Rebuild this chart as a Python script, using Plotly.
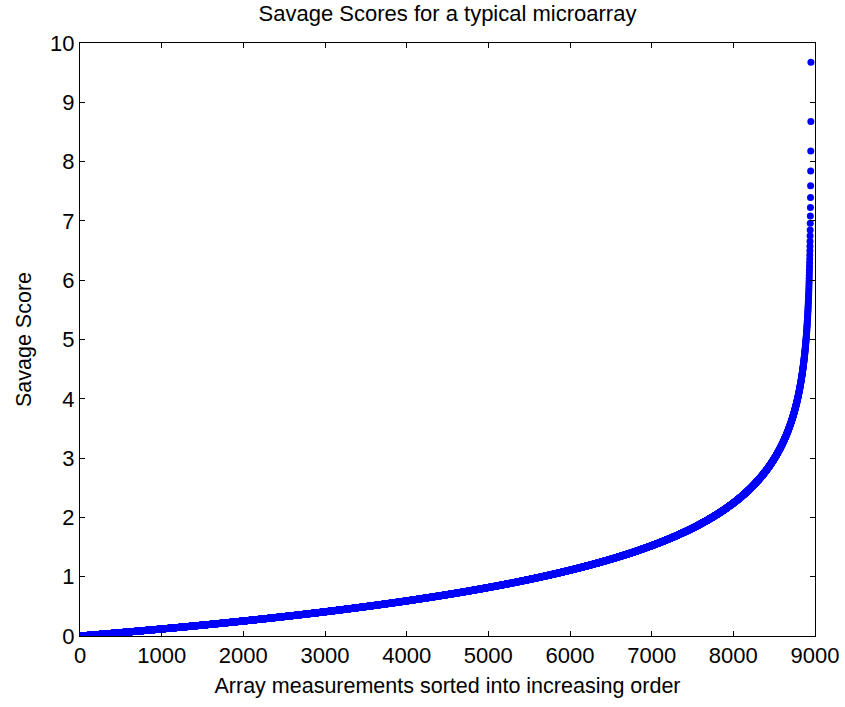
import numpy as np
import plotly.graph_objects as go

# Number of array measurements (spots) on the microarray
N_MEASUREMENTS = 8950

# Ranks 1..N of the measurements sorted into increasing order
ranks = np.arange(1, N_MEASUREMENTS + 1)

# Savage score of rank i: sum_{j=N-i+1}^{N} 1/j
reciprocals = 1.0 / np.arange(N_MEASUREMENTS, 0, -1)
savage_scores = np.cumsum(reciprocals)

x_ticks = [0, 1000, 2000, 3000, 4000, 5000, 6000, 7000, 8000, 9000]
y_ticks = [0, 1, 2, 3, 4, 5, 6, 7, 8, 9, 10]

FONT = "Liberation Sans, Arial, sans-serif"

fig = go.Figure()
fig.add_trace(go.Scatter(
    x=ranks,
    y=savage_scores,
    mode="markers",
    marker=dict(color="#0000FF", size=7, line=dict(width=0)),
    showlegend=False,
))

axis_common = dict(
    showline=True, linecolor="black", linewidth=1, mirror="ticks",
    ticks="inside", ticklen=5, tickcolor="black", tickwidth=1,
    showgrid=False, zeroline=False, automargin=False,
    tickfont=dict(family=FONT, size=22, color="black"),
)

fig.update_layout(
    width=845, height=707,
    margin=dict(l=80, r=30, t=43, b=71),
    paper_bgcolor="white", plot_bgcolor="white",
    title=dict(text="Savage Scores for a typical microarray",
               font=dict(family=FONT, size=22, color="black"),
               x=0.5, xref="paper", xanchor="center",
               y=1, yref="container", yanchor="top", pad=dict(t=6)),
    xaxis=dict(range=[0, 9000], tickvals=x_ticks,
               title=dict(text="Array measurements sorted into increasing order",
                          font=dict(family=FONT, size=21.5, color="black"), standoff=10),
               **axis_common),
    yaxis=dict(range=[0, 10], tickvals=y_ticks,
               title=dict(text="Savage Score",
                          font=dict(family=FONT, size=21.5, color="black"), standoff=12),
               **axis_common),
)

fig.write_html("out.html")
